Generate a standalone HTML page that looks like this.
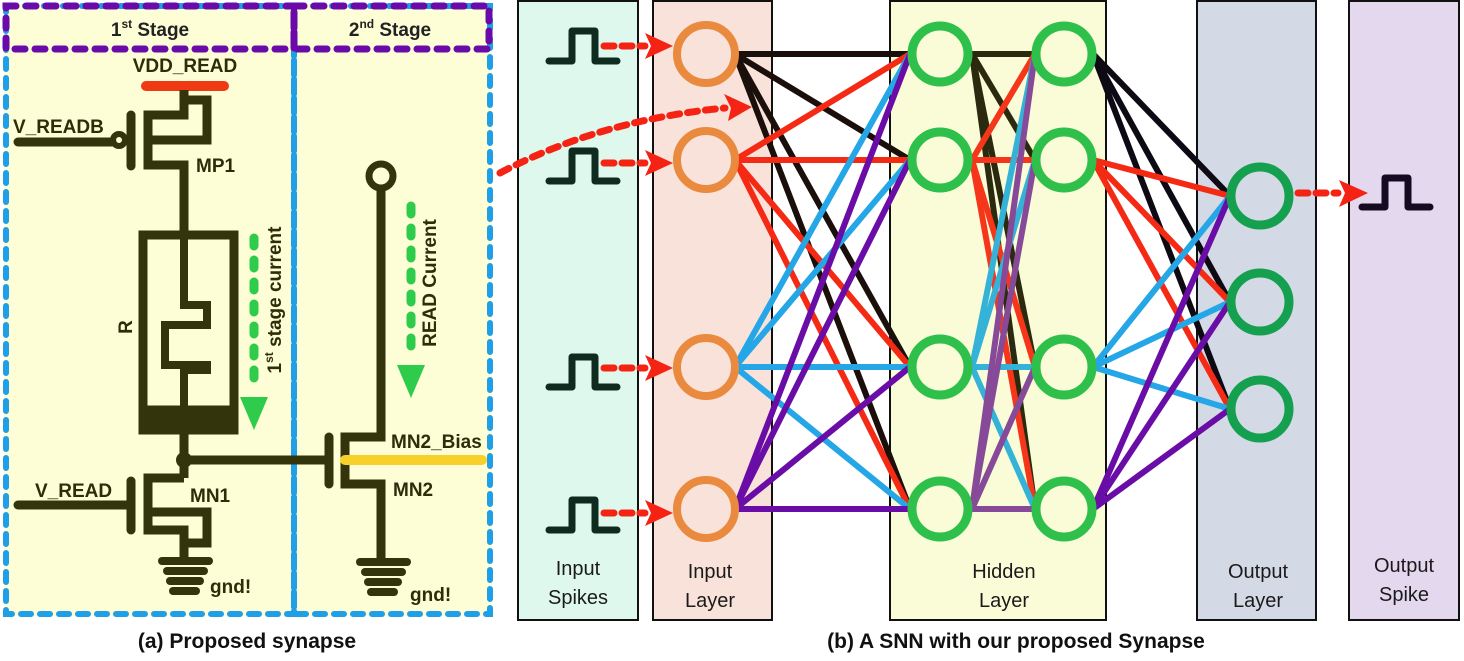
<!DOCTYPE html>
<html><head><meta charset="utf-8"><style>
html,body{margin:0;padding:0;background:#fff;}
svg{display:block;font-family:"Liberation Sans",sans-serif;}
</style></head><body>
<svg width="1464" height="661" viewBox="0 0 1464 661" xmlns="http://www.w3.org/2000/svg">
<defs>
<marker id="ar" markerWidth="10" markerHeight="10" refX="9" refY="5" orient="auto" markerUnits="userSpaceOnUse" viewBox="0 0 10 10"><path d="M0,0 L10,5 L0,10 L3,5 z" fill="#f52314"/></marker>
<marker id="ar2" viewBox="0 0 10 10" refX="9" refY="5" markerWidth="28" markerHeight="28" orient="auto" markerUnits="userSpaceOnUse"><path d="M0,0 L10,5 L0,10 L3,5 z" fill="#f52314"/></marker>
</defs>
<!-- ===== Left circuit ===== -->
<rect x="4" y="4" width="488" height="612" fill="#fdfdd6"/>
<g fill="none" stroke="#1f9fe8" stroke-width="6" stroke-dasharray="10 9" stroke-linecap="round">
<rect x="6" y="6" width="288" height="608"/>
<rect x="294" y="6" width="196" height="608"/>
</g>
<g fill="none" stroke="#6a0aa8" stroke-width="7" stroke-dasharray="10 10" stroke-linecap="round">
<rect x="6" y="6" width="288" height="43"/>
<rect x="294" y="6" width="195" height="43"/>
</g>
<text x="150" y="36" font-size="19" font-weight="bold" text-anchor="middle" fill="#222">1<tspan font-size="12" dy="-8">st</tspan><tspan dy="8"> Stage</tspan></text>
<text x="390" y="36" font-size="19" font-weight="bold" text-anchor="middle" fill="#222">2<tspan font-size="12" dy="-8">nd</tspan><tspan dy="8"> Stage</tspan></text>
<text x="185" y="72" font-size="19" font-weight="bold" text-anchor="middle" fill="#2d2d0a">VDD_READ</text>
<line x1="146" y1="86" x2="224" y2="86" stroke="#f03a14" stroke-width="10" stroke-linecap="round"/>
<g stroke="#33330c" stroke-width="9" fill="none" stroke-linejoin="miter">
<!-- MP1 -->
<polyline points="184,90 184,115 148,115 148,165 184,165 184,235"/>
<polyline points="184,100 207,100 207,140 148,140"/>
<line x1="131" y1="115" x2="131" y2="166" stroke-linecap="round"/>
<line x1="18" y1="142" x2="112" y2="142" stroke-linecap="round"/>
<circle cx="119" cy="140" r="6" stroke-width="6"/>
<!-- R -->
<rect x="143" y="235" width="91" height="185"/>
<rect x="143" y="410" width="91" height="20" fill="#33330c"/>
<polyline points="184,235 184,305 207,305 207,325 165,325 165,365 207,365 207,370 184,370 184,410" stroke-width="8"/>
<!-- node -->
<line x1="184" y1="430" x2="184" y2="478"/>
<line x1="184" y1="460" x2="329" y2="460"/>
<!-- MN1 -->
<polyline points="184,478 148,478 148,530 184,530 184,562"/>
<polyline points="148,512 207,512 207,543 184,543"/>
<line x1="131" y1="481" x2="131" y2="530" stroke-linecap="round"/>
<line x1="18" y1="505" x2="128" y2="505" stroke-linecap="round"/>
<!-- MN2 -->
<line x1="329" y1="437" x2="329" y2="484" stroke-linecap="round"/>
<polyline points="381,180 381,437 345,437 345,484 381,484 381,562"/>
<circle cx="381" cy="176" r="12" stroke-width="7" fill="#fdfdd6"/>
</g>
<circle cx="184" cy="460" r="8" fill="#33330c"/>
<g stroke="#33330c" stroke-width="8" stroke-linecap="round">
<line x1="162" y1="561" x2="209" y2="561"/><line x1="167" y1="571" x2="204" y2="571"/><line x1="170" y1="581" x2="200" y2="581"/><line x1="173" y1="591" x2="196" y2="591"/>
<line x1="360" y1="562" x2="407" y2="562"/><line x1="365" y1="572" x2="402" y2="572"/><line x1="368" y1="582" x2="398" y2="582"/><line x1="371" y1="592" x2="394" y2="592"/>
</g>
<line x1="345" y1="460" x2="482" y2="460" stroke="#f7d12a" stroke-width="10" stroke-linecap="round"/>
<g font-size="19" font-weight="bold" fill="#2d2d0a">
<text x="13" y="133">V_READB</text>
<text x="196" y="172">MP1</text>
<text x="35" y="497">V_READ</text>
<text x="190" y="502">MN1</text>
<text x="391" y="448">MN2_Bias</text>
<text x="393" y="496">MN2</text>
<text x="210" y="593">gnd!</text>
<text x="410" y="601">gnd!</text>
<text transform="translate(132,327) rotate(-90)" text-anchor="middle">R</text>
<text transform="translate(281,300) rotate(-90)" text-anchor="middle">1<tspan font-size="12" dy="-8">st</tspan><tspan dy="8"> stage current</tspan></text>
<text transform="translate(436,283) rotate(-90)" text-anchor="middle">READ Current</text>
</g>
<g stroke="#2ecc4a" stroke-width="9" stroke-linecap="round" stroke-dasharray="8 14">
<line x1="254" y1="238" x2="254" y2="390"/>
<line x1="411" y1="206" x2="411" y2="355"/>
</g>
<polygon points="240,397 268,397 254,430" fill="#2ecc4a"/>
<polygon points="397,365 425,365 411,398" fill="#2ecc4a"/>
<text x="247" y="648" font-size="21" font-weight="bold" text-anchor="middle" fill="#111">(a) Proposed synapse</text>

<!-- ===== Right network panels ===== -->
<g stroke="#111" stroke-width="2">
<rect x="518" y="1" width="120" height="619" fill="#dff8ee"/>
<rect x="653" y="1" width="119" height="619" fill="#f8e2da"/>
<rect x="890" y="1" width="216" height="619" fill="#f9fcd6"/>
<rect x="1197" y="1" width="119" height="619" fill="#d4d9e6"/>
<rect x="1349" y="1" width="110" height="619" fill="#e4d8ee"/>
</g>
<g font-size="20" fill="#1a1a1a" text-anchor="middle">
<text x="578" y="575">Input</text><text x="578" y="604">Spikes</text>
<text x="710" y="578">Input</text><text x="710" y="607">Layer</text>
<text x="1004" y="578">Hidden</text><text x="1004" y="607">Layer</text>
<text x="1258" y="578">Output</text><text x="1258" y="607">Layer</text>
<text x="1404" y="572">Output</text><text x="1404" y="601">Spike</text>
</g>
<text x="1016" y="648" font-size="21" font-weight="bold" text-anchor="middle" fill="#111">(b) A SNN with our proposed Synapse</text>

<!-- connections -->
<g stroke-width="6" stroke-linecap="round">
<!-- input -> H1 -->
<g stroke="#1a0f0a"><line x1="735" y1="54" x2="910" y2="54"/><line x1="735" y1="54" x2="910" y2="160"/><line x1="735" y1="54" x2="910" y2="367"/><line x1="735" y1="54" x2="910" y2="509"/></g>
<g stroke="#f52a14"><line x1="735" y1="160" x2="910" y2="54"/><line x1="735" y1="160" x2="910" y2="160"/><line x1="735" y1="160" x2="910" y2="367"/><line x1="735" y1="160" x2="910" y2="509"/></g>
<g stroke="#25a6e6"><line x1="735" y1="367" x2="910" y2="54"/><line x1="735" y1="367" x2="910" y2="160"/><line x1="735" y1="367" x2="910" y2="367"/><line x1="735" y1="367" x2="910" y2="509"/></g>
<g stroke="#6a0da6"><line x1="735" y1="509" x2="910" y2="54"/><line x1="735" y1="509" x2="910" y2="160"/><line x1="735" y1="509" x2="910" y2="367"/><line x1="735" y1="509" x2="910" y2="509"/></g>
<!-- H1 -> H2 -->
<g stroke="#2c2a0e"><line x1="972" y1="54" x2="1035" y2="54"/><line x1="972" y1="54" x2="1035" y2="160"/><line x1="972" y1="54" x2="1035" y2="367"/><line x1="972" y1="54" x2="1035" y2="509"/></g>
<g stroke="#f5361a"><line x1="972" y1="160" x2="1035" y2="54"/><line x1="972" y1="160" x2="1035" y2="160"/><line x1="972" y1="160" x2="1035" y2="367"/><line x1="972" y1="160" x2="1035" y2="509"/></g>
<g stroke="#34b2d8"><line x1="972" y1="367" x2="1035" y2="54"/><line x1="972" y1="367" x2="1035" y2="160"/><line x1="972" y1="367" x2="1035" y2="367"/><line x1="972" y1="367" x2="1035" y2="509"/></g>
<g stroke="#874a98"><line x1="972" y1="509" x2="1035" y2="54"/><line x1="972" y1="509" x2="1035" y2="160"/><line x1="972" y1="509" x2="1035" y2="367"/><line x1="972" y1="509" x2="1035" y2="509"/></g>
<!-- H2 -> out -->
<g stroke="#0e0a14"><line x1="1093" y1="54" x2="1230" y2="196"/><line x1="1093" y1="54" x2="1230" y2="302"/><line x1="1093" y1="54" x2="1230" y2="409"/></g>
<g stroke="#f52a14"><line x1="1093" y1="160" x2="1230" y2="196"/><line x1="1093" y1="160" x2="1230" y2="302"/><line x1="1093" y1="160" x2="1230" y2="409"/></g>
<g stroke="#25a6e6"><line x1="1093" y1="367" x2="1230" y2="196"/><line x1="1093" y1="367" x2="1230" y2="302"/><line x1="1093" y1="367" x2="1230" y2="409"/></g>
<g stroke="#6a0da6"><line x1="1093" y1="509" x2="1230" y2="196"/><line x1="1093" y1="509" x2="1230" y2="302"/><line x1="1093" y1="509" x2="1230" y2="409"/></g>
</g>
<!-- nodes -->
<g fill="#f8e2da" stroke="#ea8a3e" stroke-width="8">
<circle cx="706" cy="54" r="29"/><circle cx="706" cy="160" r="29"/><circle cx="706" cy="367" r="29"/><circle cx="706" cy="509" r="29"/>
</g>
<g fill="#f9fcd6" stroke="#2ec04a" stroke-width="9">
<circle cx="940" cy="54" r="28"/><circle cx="940" cy="160" r="28"/><circle cx="940" cy="367" r="28"/><circle cx="940" cy="509" r="28"/>
<circle cx="1064" cy="54" r="28"/><circle cx="1064" cy="160" r="28"/><circle cx="1064" cy="367" r="28"/><circle cx="1064" cy="509" r="28"/>
</g>
<g fill="#d4d9e6" stroke="#15a050" stroke-width="9">
<circle cx="1260" cy="196" r="29"/><circle cx="1260" cy="302" r="29"/><circle cx="1260" cy="409" r="29"/>
</g>
<!-- spikes -->
<g fill="none" stroke="#0f2a1e" stroke-width="7" stroke-linecap="round" stroke-linejoin="round">
<polyline points="549,61 572,61 572,31 595,31 595,61 617,61"/>
<polyline points="549,181 572,181 572,151 595,151 595,181 617,181"/>
<polyline points="549,387 572,387 572,357 595,357 595,387 617,387"/>
<polyline points="549,530 572,530 572,500 595,500 595,530 617,530"/>
</g>
<polyline points="1362,207 1385,207 1385,178 1408,178 1408,207 1430,207" fill="none" stroke="#160a22" stroke-width="7" stroke-linecap="round" stroke-linejoin="round"/>
<!-- red dashed arrows -->
<g stroke="#f52314" stroke-width="7" stroke-dasharray="10 8" stroke-linecap="round" fill="none">
<line x1="604" y1="46" x2="645" y2="46"/><line x1="604" y1="163" x2="645" y2="163"/><line x1="604" y1="368" x2="645" y2="368"/><line x1="604" y1="513" x2="645" y2="513"/>
<line x1="1298" y1="193" x2="1338" y2="193"/>
<path d="M500,173 Q600,120 725,108"/>
</g>
<g fill="#f52314">
<polygon points="645,33 673,46 645,59 651,46"/>
<polygon points="645,150 673,163 645,176 651,163"/>
<polygon points="645,355 673,368 645,381 651,368"/>
<polygon points="645,500 673,513 645,526 651,513"/>
<polygon points="1339,180 1368,193 1339,207 1345,193"/>
<polygon points="724,94 752,107 728,121 731,108"/>
</g>
</svg>
</body></html>
